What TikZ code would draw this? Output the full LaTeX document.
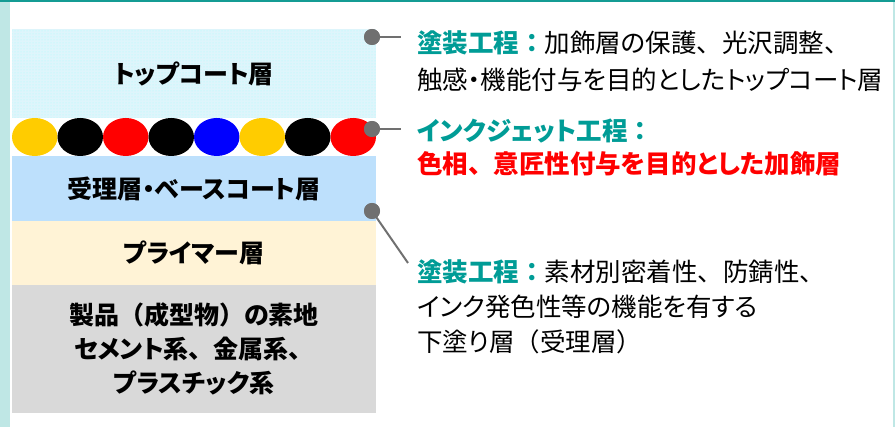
\documentclass[tikz,border=0pt]{standalone}
\usepackage{fontspec}
\usepackage{xcolor}
\usepackage{tikz}
\usetikzlibrary{positioning, shapes.geometric, patterns}
\setmainfont{Noto Sans CJK JP}[RawFeature=+palt]
\newfontfamily\jpfull{Noto Sans CJK JP}
\newcommand{\fw}[1]{{\jpfull #1}}
\definecolor{frameteal}{RGB}{20,156,148}
\definecolor{sidebar}{RGB}{191,231,229}
\definecolor{topcoat}{RGB}{222,245,251}
\definecolor{basecoat}{RGB}{189,224,252}
\definecolor{primer}{RGB}{255,243,214}
\definecolor{substrate}{RGB}{217,217,217}
\definecolor{inkyellow}{RGB}{255,204,0}
\definecolor{pingray}{RGB}{112,112,112}
\definecolor{headteal}{RGB}{0,156,150}
\tikzset{%
	layer/.style={rectangle, minimum width=364pt, inner sep=0pt, outer sep=0pt,%
		font=\fontsize{25pt}{34pt}\selectfont\bfseries, align=center},
	inkdot/.style={ellipse, minimum width=45.5pt, minimum height=38pt, inner sep=0pt},
	pin/.style={circle, fill=pingray, minimum size=16pt, inner sep=0pt},
	leader/.style={draw=pingray, line width=2pt},
	note/.style={anchor=west, align=left, inner sep=0pt},
	head/.style={text=headteal, font=\bfseries}
}
\begin{document}
\begin{tikzpicture}[x=1pt, y=-1pt]
	\useasboundingbox (0,0) rectangle (895,427);
	% frame
	\fill[sidebar] (0,0) rectangle (10,427);
	\fill[sidebar] (893,0) rectangle (895,427);
	\fill[frameteal] (0,0) rectangle (895,2);

	% layers
	\node[layer, fill=topcoat, minimum height=89pt,%
		postaction={pattern=dots, pattern color=cyan!35}] (top) at (194,73.5) {トップコート層};
	\node[layer, minimum height=38pt, below=0pt of top] (ink) {};
	\node[layer, fill=basecoat, minimum height=65pt, below=0pt of ink] (base) {受理層・ベースコート層};
	\node[layer, fill=primer, minimum height=64pt, below=0pt of base] (prim) {プライマー層};
	\node[layer, fill=substrate, minimum height=128pt, below=0pt of prim] (sub)
		{製品\fw{（}成型物\fw{）}の素地\\セメント系\fw{、}金属系\fw{、}\\プラスチック系};

	% ink droplets
	\foreach \c [count=\i] in {inkyellow, black, red, black, blue, inkyellow, black, red}
		\node[inkdot, fill=\c] (dot\i) at (12+45.5*\i-22.75, 137) {};

	% callouts
	\node[pin] (pin1) at (372,37) {};
	\node[pin] (pin2) at (372,129) {};
	\node[pin] (pin3) at (372,211) {};
	\coordinate (end1) at (401,37);
	\coordinate (end2) at (401,129);
	\coordinate (end3) at (408,263);
	\draw[leader] (pin1.center) -- (end1);
	\draw[leader] (pin2.center) -- (end2);
	\draw[leader] (pin3.center) -- (end3);
	\node[pin] at (pin1) {};
	\node[pin] at (pin2) {};
	\node[pin] at (pin3) {};

	\node[note, font=\fontsize{25.5pt}{37pt}\selectfont] (note1) at (417,61)
		{{\bfseries\color{headteal}塗装工程\fw{：}}加飾層の保護\fw{、}光沢調整\fw{、}\\触感・機能付与を目的としたトップコート層};
	\node[note, font=\fontsize{25.5pt}{33pt}\selectfont\bfseries] (note2) at (417,147)
		{{\color{headteal}インクジェット工程\fw{：}}\\{\color{red}色相\fw{、}意匠性付与を目的とした加飾層}};
	\node[note, font=\fontsize{25.5pt}{35pt}\selectfont] (note3) at (417,307)
		{{\bfseries\color{headteal}塗装工程\fw{：}}素材別密着性\fw{、}防錆性\fw{、}\\インク発色性等の機能を有する\\下塗り層\fw{（}受理層\fw{）}};
\end{tikzpicture}
\end{document}
